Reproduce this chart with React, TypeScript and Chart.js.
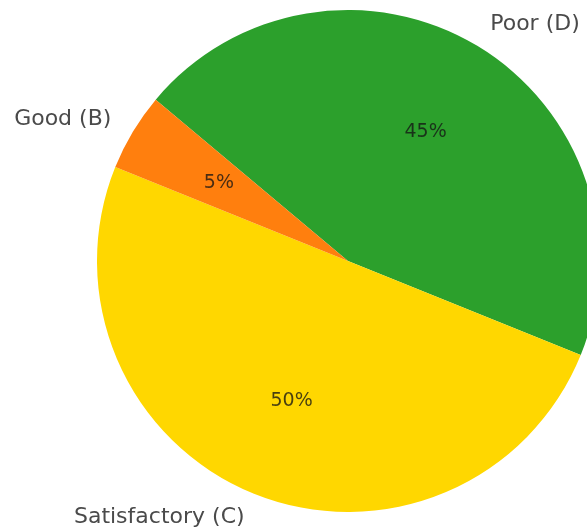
import React, { useEffect, useRef } from "react";
import { Chart, registerables } from "chart.js";

Chart.register(...registerables);

// Draw order (clockwise, starting at the upper-left boundary)
const categories: string[] = ["Poor (D)", "Satisfactory (C)", "Good (B)"];
const values: number[] = [45, 50, 5];
const sliceColors: string[] = ["#2ca02c", "#ffd700", "#ff7f0e"];

const W = 620;
const H = 540;

const labelPlugin = {
  id: "pieLabels",
  afterDatasetsDraw(chart: any) {
    const ctx = chart.ctx;
    const meta = chart.getDatasetMeta(0);
    const data = chart.data.datasets[0].data as number[];
    const total = data.reduce((a, b) => a + b, 0);
    ctx.save();
    meta.data.forEach((arc: any, i: number) => {
      const { x, y, startAngle, endAngle, outerRadius } = arc.getProps(
        ["x", "y", "startAngle", "endAngle", "outerRadius"],
        true
      );
      const mid = (startAngle + endAngle) / 2;
      const c = Math.cos(mid);
      const s = Math.sin(mid);
      // percentage
      ctx.font = "19px 'DejaVu Sans'";
      ctx.fillStyle = "rgba(20,20,20,0.78)";
      ctx.textAlign = "center";
      ctx.textBaseline = "middle";
      const pct = Math.round((data[i] / total) * 100) + "%";
      ctx.fillText(pct, x + 0.6 * outerRadius * c, y + 0.6 * outerRadius * s);
      // category label
      ctx.font = "22px 'DejaVu Sans'";
      ctx.fillStyle = "#4a4a4a";
      ctx.textAlign = c > 0 ? "left" : "right";
      ctx.fillText(
        chart.data.labels[i],
        x + 1.1 * outerRadius * c,
        y + 1.1 * outerRadius * s
      );
    });
    ctx.restore();
  },
};

export default function App() {
  const ref = useRef<HTMLCanvasElement | null>(null);
  useEffect(() => {
    document.body.style.margin = "0";
    if (!ref.current) return;
    const chart = new Chart(ref.current, {
      type: "pie",
      data: {
        labels: categories,
        datasets: [
          {
            data: values,
            backgroundColor: sliceColors,
            borderWidth: 0,
            hoverOffset: 0,
          },
        ],
      },
      options: {
        animation: false,
        responsive: false,
        maintainAspectRatio: false,
        rotation: -50,
        layout: {
          padding: { left: 97, top: 10, right: W - 599, bottom: H - 512 },
        },
        plugins: {
          legend: { display: false },
          tooltip: { enabled: false },
        },
      },
      plugins: [labelPlugin],
    });
    return () => chart.destroy();
  }, []);
  return (
    <div
      style={{
        position: "relative",
        width: 587,
        height: 531,
        overflow: "hidden",
        background: "#ffffff",
      }}
    >
      <canvas
        ref={ref}
        width={W}
        height={H}
        style={{ position: "absolute", left: 0, top: 0, width: W, height: H }}
      />
    </div>
  );
}
